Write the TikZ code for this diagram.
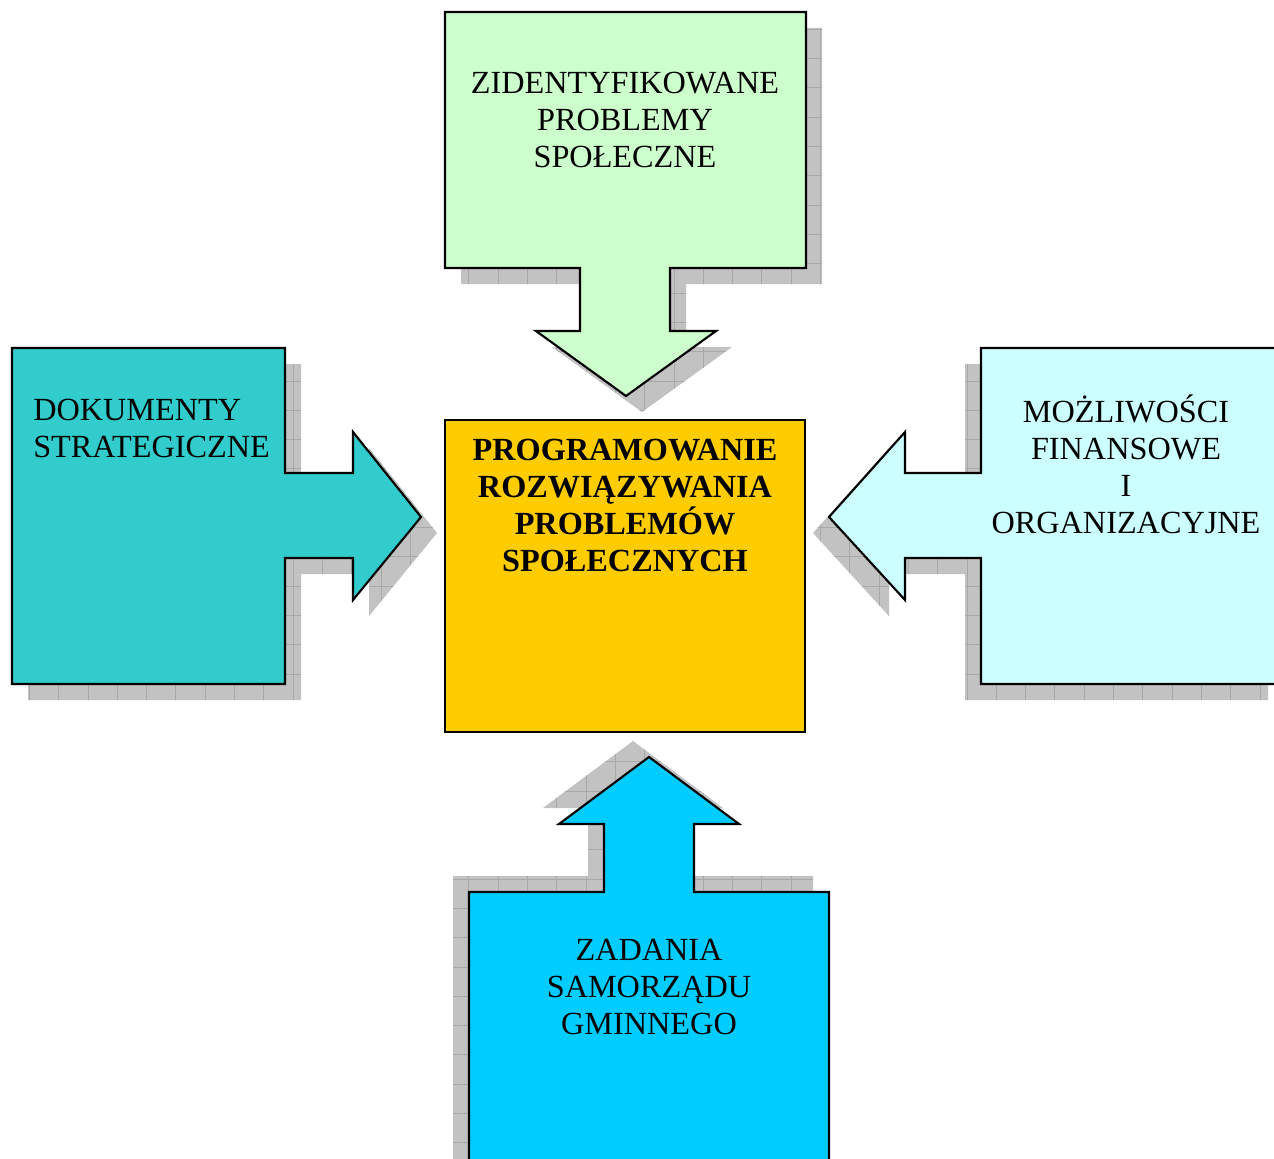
\documentclass[tikz,border=0pt]{standalone}
\usepackage{fontspec}
\setmainfont{Liberation Serif}
\begin{document}
\begin{tikzpicture}[x=0.75pt,y=-0.75pt]
\definecolor{ctop}{HTML}{CCFFCC}
\definecolor{cleft}{HTML}{33CCCC}
\definecolor{cright}{HTML}{CCFFFF}
\definecolor{cbottom}{HTML}{00CCFF}
\definecolor{ccenter}{HTML}{FFCC00}
\definecolor{cshadow}{HTML}{C2C2C2}
\definecolor{cgrid}{HTML}{A8A8A8}
\tikzset{
  shapebox/.style={draw=black, line width=1.6pt, line join=miter},
  label/.style={font=\fontsize{24.2}{27.75}\selectfont, align=center, inner sep=0pt},
}
\useasboundingbox (0,0) rectangle (1274,1159);
\fill[white] (0,0) rectangle (1274,1159);
\clip (0,0) rectangle (1274,1159);
\def\topshape{(445,12) -- (806,12) -- (806,268) -- (670,268) -- (670,331) -- (716,331) -- (626,396) -- (536,331) -- (580,331) -- (580,268) -- (445,268) -- cycle}
\def\leftshape{(12,348) -- (285,348) -- (285,473) -- (353,473) -- (353,432) -- (421,517) -- (353,600) -- (353,558) -- (285,558) -- (285,684) -- (12,684) -- cycle}
\def\rightshape{(981,348) -- (1284,348) -- (1284,684) -- (981,684) -- (981,558) -- (905,558) -- (905,600) -- (829,517) -- (905,432) -- (905,473) -- (981,473) -- cycle}
\def\bottomshape{(469,892) -- (604,892) -- (604,824) -- (559,824) -- (649,757) -- (739,824) -- (694,824) -- (694,892) -- (829,892) -- (829,1180) -- (469,1180) -- cycle}
\newcommand\shadowof[3]{%
  \begin{scope}
    \clip[shift={(#1,#2)}] #3;
    \fill[cshadow] (0,0) rectangle (1300,1200);
    \foreach \k in {0,...,45} {
      \draw[cgrid, line width=0.6pt] (\k*29.3,0) -- (\k*29.3,1200);
      \draw[cgrid, line width=0.6pt] (0,\k*29.3) -- (1300,\k*29.3);
    }
  \end{scope}}
% shadows
\shadowof{16}{16}{\topshape}
\shadowof{16}{16}{\leftshape}
\shadowof{-16}{16}{\rightshape}
\shadowof{-16}{-16}{\bottomshape}
% shapes
\path[shapebox, fill=ctop] \topshape;
\path[shapebox, fill=cleft] \leftshape;
\path[shapebox, fill=cright] \rightshape;
\path[shapebox, fill=cbottom] \bottomshape;
\path[shapebox, fill=ccenter] (445,420) rectangle (805,732);
% texts
\node[label] (ttop) at (625,120) {ZIDENTYFIKOWANE\\PROBLEMY\\SPOŁECZNE};
\node[label, align=left, anchor=west] (tleft) at (33,428) {DOKUMENTY\\STRATEGICZNE};
\node[label, font=\fontsize{24.2}{27.75}\selectfont\bfseries] (tcenter) at (625,505) {PROGRAMOWANIE\\ROZWIĄZYWANIA\\PROBLEMÓW\\SPOŁECZNYCH};
\node[label] (tright) at (1126,464) {MOŻLIWOŚCI\\FINANSOWE\\I\\ORGANIZACYJNE};
\node[label] (tbottom) at (649,987) {ZADANIA\\SAMORZĄDU\\GMINNEGO};
\end{tikzpicture}
\end{document}
